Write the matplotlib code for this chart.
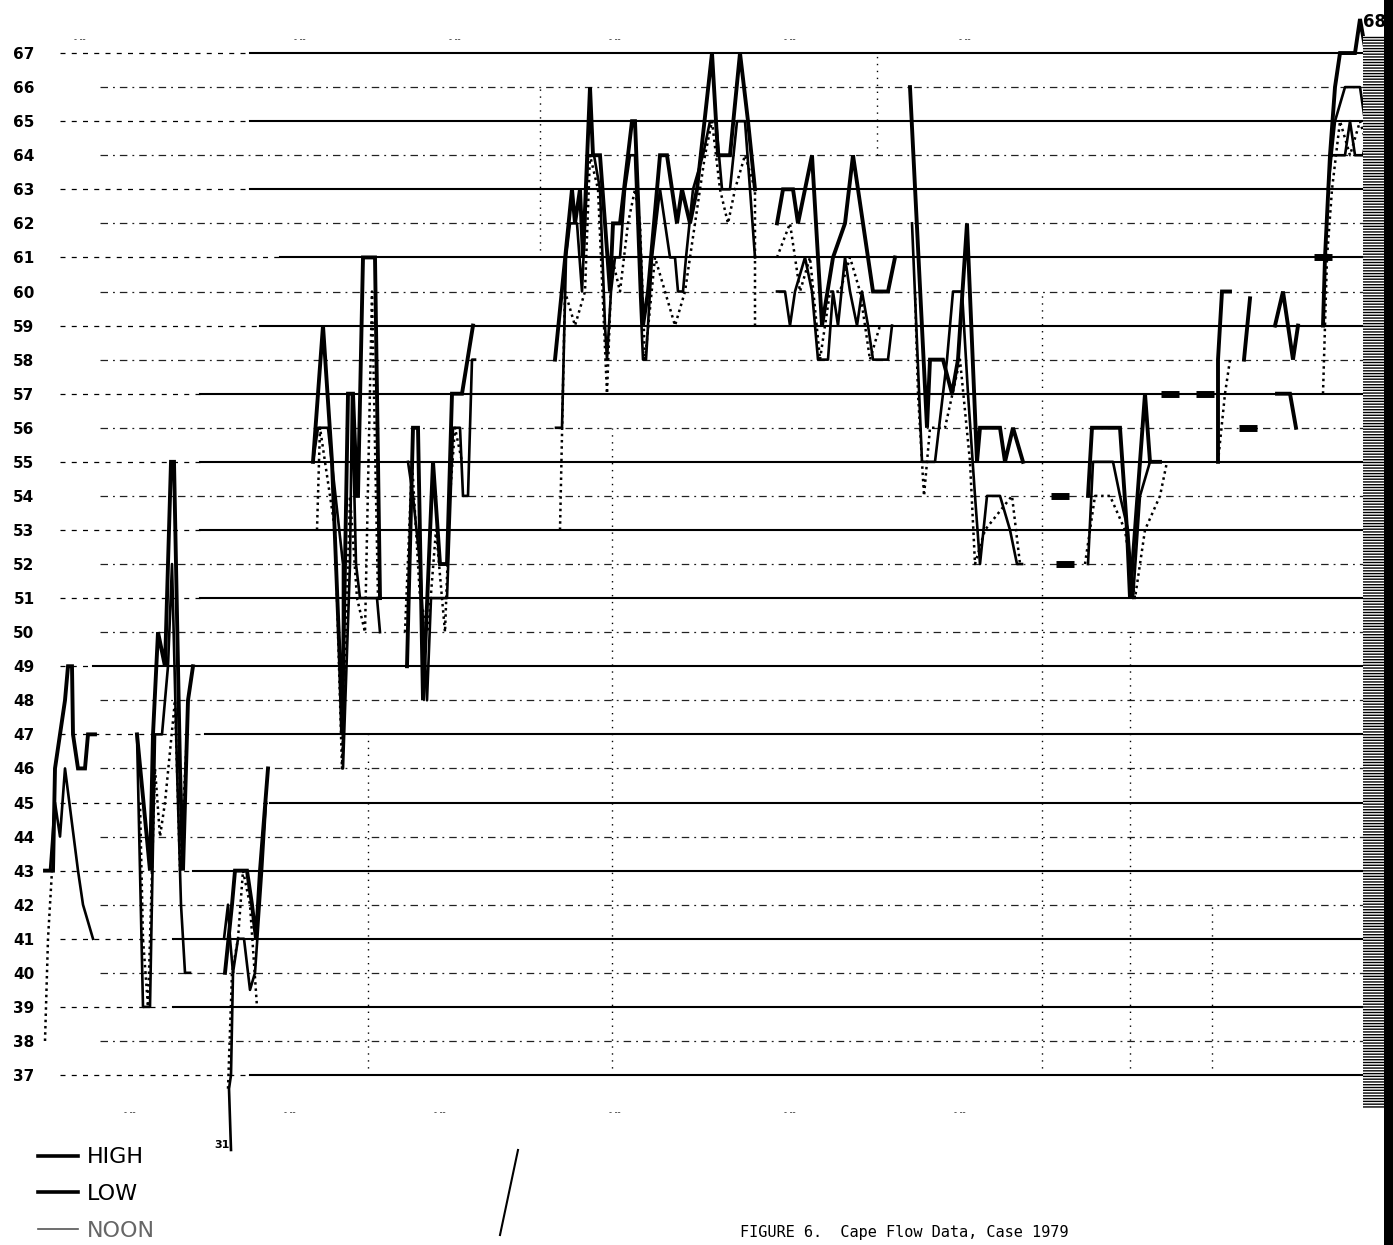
import numpy as np
import matplotlib
matplotlib.use("Agg")
import matplotlib.pyplot as plt
from matplotlib.lines import Line2D
from matplotlib.patches import Rectangle

# daily temperature trace
# x = position along the record, t = degrees; None breaks a line
N = None

high_x = [0.5, 1.3, 1.5, 2.5, 2.8, 3.2, 3.3, 3.8, 4.5, 4.8, 5.5, N,
          9.7, 11.0, 11.3, 11.8, 12.5, 13.1, 13.4, 14.0, 14.3, 14.8, 15.3, N,
          18.5, 19.2, 19.5, 20.7, 21.2, 21.6, 22.0, 22.8, N,
          27.3, 28.3, 29.2, 30.0, 30.2, 30.8, 31.3, 31.7, 31.8, 32.3, 33.5, 34.0, N,
          36.7, 37.3, 37.8, 38.3, 39.3, 40.0, 40.7, 41.2, 42.2, 43.3, N,
          51.5, 53.2, 53.5, 54.0, 54.3, 55.0, 55.3, 56.0, 57.0, 57.3, 58.0, 59.2, 59.5,
          60.3, 60.8, 62.0, 62.7, 63.7, 64.2, 65.0, 65.7, 67.2, 67.8, 69.0, 70.0, 70.8, 71.5, N,
          73.7, 74.3, 75.3, 75.8, 77.2, 78.2, 79.3, 80.5, 81.3, 82.3, 83.3, 84.8, 85.5, N,
          87.0, 88.7, 89.0, 90.3, 91.2, 91.8, 92.7, 93.7, 94.0, 96.0, 96.5, 97.3, 98.3, N,
          104.8, 105.2, 108.0, 108.7, 109.0, 110.5, 111.0, 112.0, N,
          117.8, 117.8, 118.2, 119.0, N,
          120.4, 121.0, N,
          123.5, 124.3, 125.3, 125.8, N,
          123.7, 125.0, 125.6, N,
          128.3, 128.5, 129.0, 129.5, 130.0, 131.5, 132.0, 132.6, 133.8]
high_t = [43, 43, 46, 48, 49, 49, 47, 46, 46, 47, 47, N,
          47, 43, 47, 50, 49, 55, 55, 46, 43, 48, 49, N,
          40, 42, 43, 43, 42, 41, 43, 46, N,
          55, 59, 55, 49, 47, 57, 57, 54, 54, 61, 61, 51, N,
          49, 56, 56, 48, 55, 52, 52, 57, 57, 59, N,
          58, 63, 62, 63, 61, 66, 64, 64, 60, 62, 62, 65, 65,
          59, 60, 64, 64, 62, 63, 62, 63, 67, 64, 64, 67, 65, 63, N,
          62, 63, 63, 62, 64, 59, 61, 62, 64, 62, 60, 60, 61, N,
          66, 56, 58, 58, 57, 58, 62, 55, 56, 56, 55, 56, 55, N,
          54, 56, 56, 53, 51, 57, 55, 55, N,
          55, 58, 60, 60, N,
          58, 59.8, N,
          59, 60, 58, 59, N,
          57, 57, 56, N,
          59, 61, 64, 66, 67, 67, 68, 67, 67]

low_x = [1.0, 1.5, 2.0, 2.5, 3.8, 4.3, 5.3, N,
         9.7, 10.3, 11.0, 11.5, 12.2, 12.8, 13.2, 13.7, 14.1, 14.5, 15.0, N,
         18.4, 18.8, 19.0, 19.3, 19.8, 20.4, 21.0, 21.5, 22.2, 22.6, N,
         19.3, 19.1, 18.9, 19.1, N,
         27.3, 27.8, 28.8, 30.3, 30.3, 31.0, 31.2, 31.6, 32.0, 32.8, 33.7, 34.0, N,
         36.8, 37.3, 38.0, 38.7, 39.1, 40.0, 40.7, 41.3, 42.0, 42.3, 42.8, 43.2, 43.5, N,
         51.6, 52.2, 52.6, 53.0, 53.7, 54.2, 54.8, 55.4, 56.0, 56.5,
         56.7, 57.1, 57.5, 58.0, 58.5, 59.0, 59.5, 60.0, 60.3, 60.6,
         61.2, 62.0, 62.5, 63.0, 63.5, 63.8, 64.3, 64.6, 65.3, 66.3,
         67.0, 67.6, 68.2, 69.0, 69.7, 70.5, 71.0, 71.5, N,
         73.7, 74.5, 75.0, 75.5, 76.5, 77.2, 77.8, 78.8, 79.3, 79.8,
         80.5, 81.0, 81.7, 82.2, 82.8, 83.3, 84.8, 85.2, N,
         87.2, 88.2, 89.5, 90.7, 91.3, 92.2, 92.8, 93.5, 94.0, 94.7, 96.0, 97.0, 97.7, 98.2, N,
         104.8, 105.3, 107.3, 108.0, 108.8, 109.3, 110.0, 111.0, N,
         128.8, 129.5, 130.5, 132.0, 132.5, 133.5, 134.0, N,
         129.0, 130.5, 131.0, 131.5, 132.3, 133.0, 134.0]
low_t = [43, 45, 44, 46, 43, 42, 41, N,
         47, 39, 39, 47, 47, 49, 52, 46, 42, 40, 40, N,
         41, 42, 41, 40, 41, 41, 39.5, 40, 43, 45, N,
         40, 37, 36.6, 34.8, N,
         55, 56, 56, 52, 46, 52, 57, 52, 51, 51, 51, 50, N,
         55, 54, 52, 48, 51, 51, 51, 56, 56, 54, 54, 58, 58, N,
         56, 56, 61, 62, 62, 60, 64, 64, 63, 59,
         58, 60, 61, 61, 63, 64, 64, 60, 58, 58,
         61, 63, 62, 61, 61, 60, 60, 61, 63, 64,
         65, 65, 63, 63, 65, 65, 63, 61, N,
         60, 60, 59, 60, 61, 60, 58, 58, 60, 59,
         61, 60, 59, 60, 59, 58, 58, 59, N,
         62, 55, 55, 58, 60, 60, 57, 54, 52, 54, 54, 53, 52, 52, N,
         52, 55, 55, 54, 53, 51, 54, 55, N,
         63, 65, 66, 66, 65, 66, 65, N,
         64, 64, 65, 64, 64, 65, 64]

noon_x = [0.5, 0.7, 0.8, 1.0, 1.2, N,
          10.0, 10.3, 10.8, 11.5, 12.0, 12.5, 13.5, 14.0, 14.7, N,
          18.8, 19.2, 19.8, 20.3, 21.0, 21.7, N,
          27.7, 28.0, 29.5, 30.2, 31.0, 31.7, 32.5, 33.2, 33.8, N,
          36.5, 37.2, 38.0, 38.8, 39.6, 40.5, 41.0, 41.5, 42.2, N,
          52.0, 52.5, 53.5, 54.5, 55.0, 55.8, 56.7, 57.2, 58.0, 58.8,
          59.5, 60.0, 60.5, 61.5, 62.5, 63.5, 64.5, 65.5, 66.5, 67.2,
          68.0, 68.8, 69.5, 70.5, 71.5, 71.5, N,
          73.7, 75.0, 76.0, 77.0, 78.0, 79.0, 80.0, 81.0, 82.0, 83.0, 84.0, N,
          87.5, 87.8, 88.4, 89.0, 90.5, 92.0, 93.0, 93.5, 94.5, 97.2, 98.0, N,
          104.5, 105.5, 107.0, 108.5, 109.5, 110.5, 112.0, 112.7, N,
          117.8, 118.5, 119.0, N,
          128.3, 128.7, 129.2, 130.0, 131.0, 132.0, 133.0]
noon_t = [38, 40, 41, 42, 43, N,
          45, 41, 39, 46, 44, 45, 48, 43, 47, N,
          36.6, 40, 41, 43, 42, 39, N,
          53, 56, 53, 46, 54, 51, 50, 60, 51, N,
          50, 55, 51, 50, 53, 50, 54, 56, 55, N,
          53, 60, 59, 60, 64, 63, 57, 61, 60, 62,
          63, 62, 58, 61, 60, 59, 60, 62, 64, 65,
          63, 62, 63, 64, 63, 59, N,
          61, 62, 60, 61, 58, 60, 60, 61, 60, 58, 59, N,
          60, 57, 54, 56, 56, 58, 55, 52, 53, 54, 52, N,
          52, 54, 54, 53, 51, 53, 54, 55, N,
          55, 57, 58, N,
          57, 61, 63, 65, 64, 65, 64]

# isolated noon readings (short heavy dashes)
blob_x = [102.0, 102.5, 113.0, 116.5, 120.8, 128.3]
blob_t = [54, 52, 57, 57, 56, 61]

# degree scale
temps = list(range(37, 68))
odd_temps = [37, 39, 41, 43, 45, 47, 49, 51, 53, 55, 57, 59, 61, 63, 65, 67]
solid_from = [21, 13.3, 13.3, 15.3, 23, 16.5, 5.3, 16, 16, 16, 16, 22, 24, 21, 21, 21]

# faint dotted day dividers
div_x = [32.8, 50.0, 57.2, 83.7, 100.2, 109.0, 117.2]
div_lo = [37, 61, 37, 64, 37, 37, 37]
div_hi = [47, 66, 56, 67, 60, 50, 42]

top_marks = [4.0, 26.0, 41.5, 57.5, 75.0, 92.5]
bottom_marks = [9.0, 25.0, 40.0, 57.5, 75.0, 92.0]


def arr(v):
    return np.array([np.nan if a is None else a for a in v], dtype=float)


W, H = 1393, 1245
fig = plt.figure(figsize=(W / 100, H / 100), dpi=100)
fig.patch.set_facecolor("white")
ax = fig.add_axes([40 / W, 1 - 1120 / H, 1345 / W, 1100 / H])
ax.set_xlim(0, 134.5)
ax.set_ylim(35.68, 67.97)
for s in ax.spines.values():
    s.set_visible(False)
ax.set_xticks([])
ax.set_yticks(temps)
ax.set_yticklabels([str(t) for t in temps], fontsize=11, fontweight="bold")
ax.tick_params(axis="y", length=0, pad=4)

# grid lines: odd degrees heavy, even degrees dash-dot
for t, start in zip(odd_temps, solid_from):
    ax.plot([2, start], [t, t], color="black", lw=0.9, ls=(0, (4, 5)), zorder=1)
    ax.plot([start, 134.5], [t, t], color="black", lw=1.5, zorder=1)
for t in temps:
    if t not in odd_temps:
        ax.plot([6, 134.5], [t, t], color="#222222", lw=0.9,
                ls=(0, (6, 4, 1.5, 4)), zorder=1)

for x, lo, hi in zip(div_x, div_lo, div_hi):
    ax.plot([x, x], [lo, hi], color="black", lw=1.0, ls=(0, (1, 4)), zorder=1)

ax.plot(arr(high_x), arr(high_t), color="black", lw=2.8, zorder=4,
        solid_joinstyle="miter", clip_on=False)
ax.plot(arr(low_x), arr(low_t), color="black", lw=1.9, zorder=4, clip_on=False)
ax.plot(arr(noon_x), arr(noon_t), color="black", lw=1.8, ls=(0, (1, 1.5)),
        zorder=3, clip_on=False)
ax.plot(blob_x, blob_t, ls="none", marker="_", markersize=13, mew=5, color="black",
        zorder=4)

for x in top_marks:
    ax.text(x, 67.4, "- --", fontsize=6, ha="center", va="center", color="#333333")
for x in bottom_marks:
    ax.text(x, 35.9, "- --", fontsize=6, ha="center", va="center", color="#333333")

# scanned right margin
ax.add_patch(Rectangle((132.3, 36.0), 2.2, 31.5, facecolor="white", edgecolor="black",
                       hatch="------", lw=0, zorder=5, clip_on=False))
fig.add_artist(Rectangle((1384 / W, 0), 9 / W, 1, transform=fig.transFigure,
                         facecolor="black", edgecolor="none"))

fig.text(1375 / W, 1 - 22 / H, "68", fontsize=12, fontweight="bold", ha="center",
         va="center")
fig.text(222 / W, 1 - 1145 / H, "31", fontsize=8, fontweight="bold", ha="center",
         va="center")
fig.add_artist(Line2D([518 / W, 500 / W], [1 - 1150 / H, 1 - 1235 / H], color="black",
                      lw=1.5))

handles = [Line2D([], [], color="black", lw=2.6),
           Line2D([], [], color="black", lw=2.6),
           Line2D([], [], color="#555555", lw=1.2)]
leg = fig.legend(handles, ["HIGH", "LOW", "NOON"], loc="upper left",
                 bbox_to_anchor=(0.018, 1 - 1134 / H), frameon=False, fontsize=16,
                 handlelength=1.8, handletextpad=0.4, labelspacing=0.75,
                 borderpad=0.1)
leg.get_texts()[2].set_color("#666666")

fig.text(740 / W, 1 - 1233 / H, "FIGURE 6.  Cape Flow Data, Case 1979",
         fontsize=11, family="DejaVu Sans Mono", ha="left", va="center")

fig.savefig("out.png", dpi=100)
